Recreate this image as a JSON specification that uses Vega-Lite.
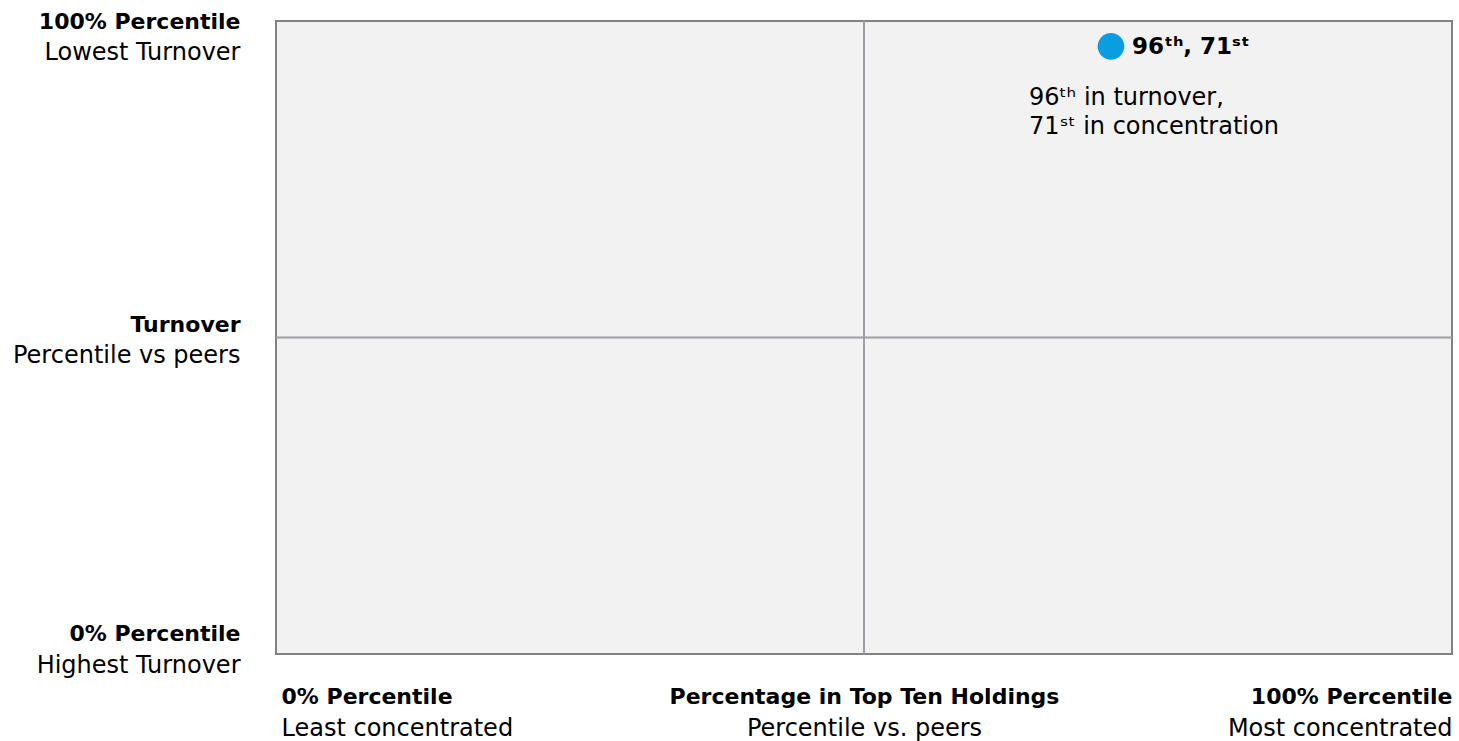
{
  "$schema": "https://vega.github.io/schema/vega-lite/v6.json",
  "width": 1176,
  "height": 633,
  "autosize": {"type": "none"},
  "padding": {"left": 276, "top": 21, "right": 7, "bottom": 87},
  "background": "#ffffff",
  "config": {
    "font": "DejaVu Sans",
    "view": {"fill": "#f2f2f2", "stroke": "#828282", "strokeWidth": 2},
    "axis": {"domain": false, "ticks": false, "grid": false, "title": null, "labelColor": "#000000", "labelOverlap": false, "labelBound": false, "labelFlush": false, "labelLimit": 600}
  },
  "datasets": {
    "fund": [
      {"concentration_pct": 71, "turnover_pct": 96, "label": "96ᵗʰ, 71ˢᵗ", "note": ["96ᵗʰ in turnover,", "71ˢᵗ in concentration"]}
    ],
    "midpoint": [{"mid": 50}]
  },
  "resolve": {"scale": {"x": "independent", "y": "independent"}, "axis": {"x": "independent", "y": "independent"}},
  "layer": [
    {
      "data": {"name": "midpoint"},
      "mark": {"type": "rule", "color": "#9e9ea6", "strokeWidth": 2},
      "encoding": {
        "x": {
          "field": "mid", "type": "quantitative",
          "scale": {"domain": [0, 100], "nice": false, "zero": false},
          "axis": {
            "orient": "bottom", "values": [0, 50, 100],
            "labelExpr": "datum.value == 0 ? 'Least concentrated' : datum.value == 50 ? 'Percentile vs. peers' : 'Most concentrated'",
            "labelFontSize": 24, "labelBaseline": "middle", "labelPadding": 74,
            "labelAlign": {"condition": [{"test": "datum.value == 0", "value": "left"}, {"test": "datum.value == 100", "value": "right"}], "value": "center"},
            "labelOffset": {"condition": {"test": "datum.value == 0", "value": 5}, "value": 0}
          }
        }
      }
    },
    {
      "data": {"name": "midpoint"},
      "mark": {"type": "rule", "color": "#9e9ea6", "strokeWidth": 2},
      "encoding": {
        "y": {
          "field": "mid", "type": "quantitative",
          "scale": {"domain": [0, 100], "nice": false, "zero": false},
          "axis": {
            "orient": "left", "values": [0, 50, 100],
            "labelExpr": "datum.value == 100 ? 'Lowest Turnover' : datum.value == 50 ? 'Percentile vs peers' : 'Highest Turnover'",
            "labelFontSize": 24, "labelBaseline": "middle", "labelAlign": "right", "labelPadding": 36,
            "labelOffset": {"condition": [{"test": "datum.value == 100", "value": 31}, {"test": "datum.value == 50", "value": 17.5}], "value": 11}
          }
        }
      }
    },
    {
      "data": {"name": "fund"},
      "mark": {"type": "circle", "size": 710, "opacity": 1, "color": "#0a9ddf"},
      "encoding": {
        "x": {
          "field": "concentration_pct", "type": "quantitative",
          "scale": {"domain": [0, 100], "nice": false, "zero": false},
          "axis": {
            "orient": "bottom", "values": [0, 50, 100],
            "labelExpr": "datum.value == 0 ? '0% Percentile' : datum.value == 50 ? 'Percentage in Top Ten Holdings' : '100% Percentile'",
            "labelFontSize": 22, "labelFontWeight": "bold", "labelBaseline": "middle", "labelPadding": 42,
            "labelAlign": {"condition": [{"test": "datum.value == 0", "value": "left"}, {"test": "datum.value == 100", "value": "right"}], "value": "center"},
            "labelOffset": {"condition": {"test": "datum.value == 0", "value": 5}, "value": 0}
          }
        },
        "y": {
          "field": "turnover_pct", "type": "quantitative",
          "scale": {"domain": [0, 100], "nice": false, "zero": false},
          "axis": {
            "orient": "left", "values": [0, 50, 100],
            "labelExpr": "datum.value == 100 ? '100% Percentile' : datum.value == 50 ? 'Turnover' : '0% Percentile'",
            "labelFontSize": 22, "labelFontWeight": "bold", "labelBaseline": "middle", "labelAlign": "right", "labelPadding": 36,
            "labelOffset": {"condition": [{"test": "datum.value == 50", "value": -13.5}, {"test": "datum.value == 0", "value": -21}], "value": 0}
          }
        }
      }
    },
    {
      "data": {"name": "fund"},
      "mark": {"type": "text", "align": "left", "baseline": "middle", "dx": 21, "dy": 1, "fontSize": 23, "fontWeight": "bold", "color": "#000000"},
      "encoding": {
        "x": {"field": "concentration_pct", "type": "quantitative", "scale": {"domain": [0, 100], "nice": false, "zero": false}, "axis": null},
        "y": {"field": "turnover_pct", "type": "quantitative", "scale": {"domain": [0, 100], "nice": false, "zero": false}, "axis": null},
        "text": {"field": "label"}
      }
    },
    {
      "data": {"name": "fund"},
      "mark": {"type": "text", "align": "left", "baseline": "alphabetic", "dx": -82, "dy": 59, "lineHeight": 29, "fontSize": 24, "color": "#000000"},
      "encoding": {
        "x": {"field": "concentration_pct", "type": "quantitative", "scale": {"domain": [0, 100], "nice": false, "zero": false}, "axis": null},
        "y": {"field": "turnover_pct", "type": "quantitative", "scale": {"domain": [0, 100], "nice": false, "zero": false}, "axis": null},
        "text": {"field": "note"}
      }
    }
  ]
}
